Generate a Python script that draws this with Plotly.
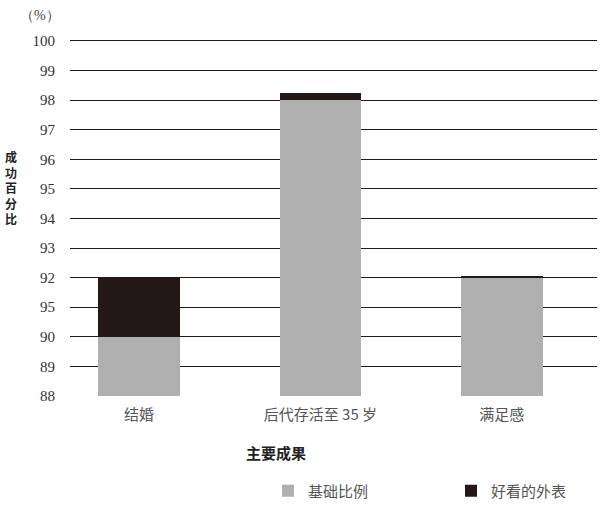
import plotly.graph_objects as go

categories = ["结婚", "后代存活至 35 岁", "满足感"]
base_values = [90.0, 98.0, 92.0]
looks_values = [2.0, 0.24, 0.05]
tick_vals = [88, 89, 90, 91, 92, 93, 94, 95, 96, 97, 98, 99, 100]
tick_text = ["88", "89", "90", "95", "92", "93", "94", "95", "96", "97", "98", "99", "100"]
series_names = ["基础比例", "好看的外表"]
y_title_chars = ["成", "功", "百", "分", "比"]

GRAY = "#aeafae"
BLACK = "#231815"
CJK = "Noto Sans CJK SC"
SERIF = "Liberation Serif"
W, H = 600, 509
ML, MR, MT, MB = 70, 3, 38, 113
PW, PH = W - ML - MR, H - MT - MB


def px_x(px):
    return (px - ML) / PW


def px_y(py):
    return (H - MB - py) / PH


fig = go.Figure()
fig.add_trace(go.Bar(x=categories, y=base_values, name=series_names[0],
                     marker=dict(color=GRAY, line=dict(width=0)), width=0.45,
                     legend="legend"))
fig.add_trace(go.Bar(x=categories, y=looks_values, name=series_names[1],
                     marker=dict(color=BLACK, line=dict(width=0)), width=0.45,
                     legend="legend2"))

leg_common = dict(orientation="h", xref="container", yref="container",
                  xanchor="left", yanchor="middle",
                  font=dict(family=CJK, size=15, color="#555555"),
                  itemclick=False, itemdoubleclick=False, bgcolor="rgba(0,0,0,0)")

annotations = [
    dict(text="（%）", x=px_x(40), y=px_y(15), xref="paper", yref="paper",
         xanchor="center", yanchor="middle", showarrow=False,
         font=dict(family=SERIF, size=14, color="#444444")),
    dict(text="<b>主要成果</b>", xref="paper", yref="paper", x=px_x(276),
         y=px_y(452), xanchor="center", yanchor="middle", showarrow=False,
         font=dict(family=CJK, size=15, color="#222222")),
    dict(text="<b>" + "<br>".join(y_title_chars) + "</b>", xref="paper", yref="paper",
         x=px_x(11), y=px_y(187), xanchor="center", yanchor="middle",
         showarrow=False, align="center",
         font=dict(family=CJK, size=12, color="#222222")),
]

fig.update_layout(
    barmode="stack",
    width=W, height=H,
    margin=dict(l=ML, r=MR, t=MT, b=MB, autoexpand=False),
    paper_bgcolor="white", plot_bgcolor="white",
    showlegend=True,
    legend=dict(x=268 / W, y=1 - 491 / H, **leg_common),
    legend2=dict(x=451 / W, y=1 - 491 / H, **leg_common),
    xaxis=dict(range=[-0.381, 2.525], showgrid=False, showline=False, zeroline=False,
               ticks="", tickfont=dict(family=CJK, size=15, color="#555555"),
               ticklabelstandoff=8),
    yaxis=dict(range=[88, 100.1], tickvals=tick_vals, ticktext=tick_text,
               showgrid=True, gridcolor="#231815", gridwidth=1, zeroline=False,
               showline=False, ticks="", ticklabelstandoff=14,
               tickfont=dict(family=SERIF, size=15, color="#333333")),
    annotations=annotations,
)
fig.write_html("out.html", post_script="document.body.style.margin='0';",
               config={"displayModeBar": False})
